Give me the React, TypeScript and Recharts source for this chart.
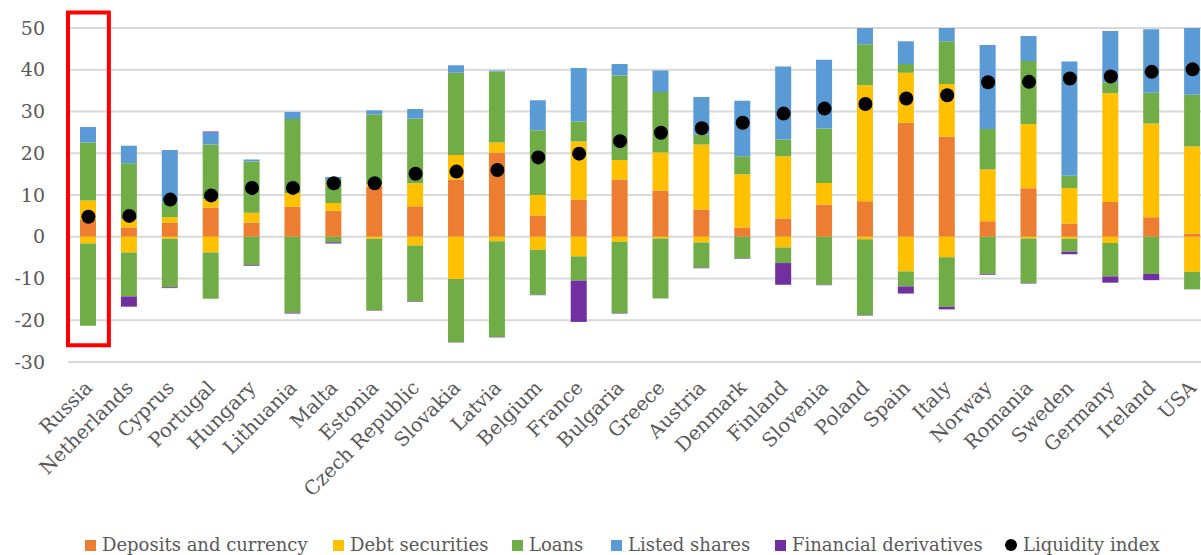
import React from 'react';
import {
  ComposedChart,
  Bar,
  Line,
  XAxis,
  YAxis,
  CartesianGrid,
  ReferenceArea,
} from 'recharts';

const countries = [
  'Russia', 'Netherlands', 'Cyprus', 'Portugal', 'Hungary', 'Lithuania', 'Malta',
  'Estonia', 'Czech Republic', 'Slovakia', 'Latvia', 'Belgium', 'France', 'Bulgaria',
  'Greece', 'Austria', 'Denmark', 'Finland', 'Slovenia', 'Poland', 'Spain', 'Italy',
  'Norway', 'Romania', 'Sweden', 'Germany', 'Ireland', 'USA',
];

// positive parts of each component
const deposits = [4.0, 2.2, 3.4, 7.0, 3.4, 7.2, 6.2, 12.0, 7.3, 13.7, 20.2, 5.1, 8.9, 13.7, 11.1, 6.5, 2.2, 4.4, 7.7, 8.5, 27.3, 24.0, 3.7, 11.6, 3.2, 8.3, 4.7, 0.7];
const debtPos = [4.7, 2.0, 1.3, 1.9, 2.35, 3.3, 1.9, 0.5, 5.5, 5.9, 2.4, 4.9, 13.9, 4.7, 9.1, 15.6, 12.8, 14.9, 5.2, 27.8, 12.0, 12.6, 12.4, 15.4, 8.5, 26.1, 22.4, 20.9];
const loansPos = [13.9, 13.4, 3.5, 13.2, 12.25, 17.7, 5.5, 16.8, 15.5, 19.7, 17.0, 15.5, 4.8, 20.2, 14.5, 2.4, 4.3, 4.0, 13.0, 9.8, 2.1, 10.2, 9.7, 15.1, 2.9, 2.6, 7.4, 12.4];
const shares = [3.7, 4.2, 12.6, 2.9, 0.5, 1.7, 0.7, 1.0, 2.3, 1.8, 0.2, 7.2, 12.8, 2.8, 5.1, 9.0, 13.3, 17.5, 16.5, 6.5, 5.4, 4.5, 20.1, 6.0, 27.4, 12.3, 15.2, 17.0];

// negative parts
const debtNeg = [-1.6, -3.75, -0.5, -3.75, 0, 0, 0, -0.5, -2.1, -10.1, -1.1, -3.1, -4.7, -1.2, -0.4, -1.4, 0, -2.6, 0, -0.6, -8.3, -4.9, 0, -0.4, -0.5, -1.5, 0, -8.4];
const loansNeg = [-19.7, -10.55, -11.6, -11.1, -6.75, -18.2, -1.3, -17.1, -13.4, -15.1, -22.9, -10.8, -5.8, -17.1, -14.4, -6.0, -5.2, -3.7, -11.5, -18.2, -3.6, -11.9, -8.9, -10.7, -3.1, -8.0, -8.9, -4.2];
const derivatives = [0, -2.45, -0.2, 0.2, -0.2, -0.2, -0.3, -0.1, -0.1, -0.1, -0.1, -0.1, -9.9, -0.1, 0, -0.15, -0.1, -5.2, -0.1, -0.1, -1.7, -0.6, -0.2, -0.1, -0.6, -1.5, -1.5, 0];

const liquidity = [4.8, 5.0, 8.9, 9.9, 11.7, 11.7, 12.8, 12.8, 15.1, 15.6, 16.0, 19.0, 19.9, 22.9, 24.9, 26.0, 27.3, 29.5, 30.7, 31.8, 33.1, 33.9, 37.0, 37.1, 37.9, 38.4, 39.5, 40.1];

const yTicks = [-30, -20, -10, 0, 10, 20, 30, 40, 50];

const data = countries.map((country, i) => ({
  country,
  deposits: deposits[i],
  debtPos: debtPos[i],
  debtNeg: debtNeg[i],
  loansPos: loansPos[i],
  loansNeg: loansNeg[i],
  shares: shares[i],
  derivatives: derivatives[i],
  liquidity: liquidity[i],
}));

const FONT = '"DejaVu Serif", serif';
const TEXT = '#595959';

const legendItems = [
  { label: 'Deposits and currency', color: '#ED7D31', left: 85 },
  { label: 'Debt securities', color: '#FFC000', left: 333 },
  { label: 'Loans', color: '#70AD47', left: 512 },
  { label: 'Listed shares', color: '#5B9BD5', left: 611 },
  { label: 'Financial derivatives', color: '#7030A0', left: 775 },
  { label: 'Liquidity index', color: '#000000', left: 1005, round: true },
];

const CountryTick = ({ x, y, payload }: any) => {
  const tx = x + 5;
  const ty = y + 27;
  return (
    <text
      x={tx}
      y={ty}
      transform={`rotate(-45, ${tx}, ${ty})`}
      textAnchor="end"
      fill={TEXT}
      fontSize={19.5}
      fontFamily={FONT}
    >
      {payload.value}
    </text>
  );
};

export default function App() {
  return (
    <div
      style={{
        position: 'absolute',
        left: 0,
        top: 0,
        width: 1201,
        height: 555,
        overflow: 'hidden',
        background: '#fff',
      }}
    >
      <ComposedChart
        width={1220}
        height={555}
        data={data}
        stackOffset="sign"
        margin={{ top: 28, right: 7, left: 0, bottom: 0 }}
        barSize={16}
      >
        <CartesianGrid vertical={false} stroke="#d9d9d9" strokeWidth={2} />
        <XAxis
          dataKey="country"
          interval={0}
          height={193}
          axisLine={false}
          tickLine={false}
          tickSize={0}
          tickMargin={0}
          tick={<CountryTick />}
        />
        <YAxis
          width={68}
          domain={[-30, 50]}
          ticks={yTicks}
          allowDataOverflow
          axisLine={false}
          tickLine={false}
          tickSize={0}
          tickMargin={23}
          tick={{ fontSize: 19, fill: TEXT, fontFamily: FONT }}
        />
        <Bar dataKey="deposits" stackId="s" fill="#ED7D31" isAnimationActive={false} />
        <Bar dataKey="debtPos" stackId="s" fill="#FFC000" isAnimationActive={false} />
        <Bar dataKey="debtNeg" stackId="s" fill="#FFC000" isAnimationActive={false} />
        <Bar dataKey="loansPos" stackId="s" fill="#70AD47" isAnimationActive={false} />
        <Bar dataKey="loansNeg" stackId="s" fill="#70AD47" isAnimationActive={false} />
        <Bar dataKey="shares" stackId="s" fill="#5B9BD5" isAnimationActive={false} />
        <Bar dataKey="derivatives" stackId="s" fill="#7030A0" isAnimationActive={false} />
        <Line
          dataKey="liquidity"
          stroke="none"
          dot={{ r: 7, fill: '#000', stroke: 'none' }}
          activeDot={false}
          isAnimationActive={false}
        />
        <ReferenceArea
          x1="Russia"
          x2="Russia"
          y1={-26}
          y2={53.7}
          fill="none"
          stroke="#FF0000"
          strokeWidth={4}
          ifOverflow="visible"
        />
      </ComposedChart>
      {legendItems.map((item) => (
        <div
          key={item.label}
          style={{
            position: 'absolute',
            left: item.left,
            top: 536,
            display: 'flex',
            alignItems: 'center',
            fontFamily: FONT,
            fontSize: 18,
            lineHeight: '18px',
            color: TEXT,
            whiteSpace: 'nowrap',
          }}
        >
          <span
            style={{
              display: 'inline-block',
              width: item.round ? 12 : 11,
              height: item.round ? 12 : 11,
              borderRadius: item.round ? '50%' : 0,
              background: item.color,
              marginRight: item.round ? 6 : 6,
            }}
          />
          {item.label}
        </div>
      ))}
    </div>
  );
}
